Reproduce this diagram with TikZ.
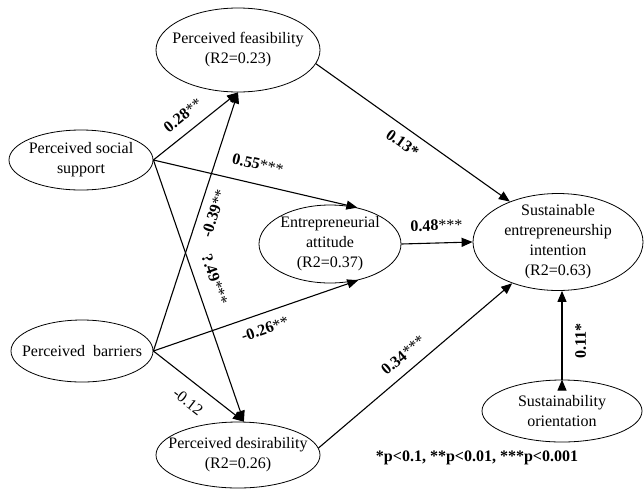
\documentclass[tikz,border=0pt]{standalone}
\usepackage{fontspec}
\setmainfont{Liberation Serif}
\usetikzlibrary{shapes.geometric, arrows.meta}
\tikzset{
construct/.style={ellipse, draw, line width=0.8pt, inner xsep=-12pt, inner ysep=-4pt, align=center}, % latent constructs
link/.style={-{Triangle[length=11pt,width=9pt]}, line width=1.1pt}, % structural paths
coef/.style={inner sep=0pt, sloped}, % path coefficients written along the paths
}

\begin{document}
\begin{tikzpicture}[x=1pt, y=-1pt, font=\fontsize{16}{20}\selectfont]
\useasboundingbox (0,0) rectangle (644,488);
% constructs
\node[construct, minimum width=164pt, minimum height=84pt] (pf) at (238,50) {Perceived feasibility\\(R2=0.23)};
\node[construct, minimum width=144pt, minimum height=60pt] (pss) at (81,160) {Perceived social\\support};
\node[construct, minimum width=142pt, minimum height=62pt] (pb) at (82,351) {Perceived\ \ barriers};
\node[construct, minimum width=142pt, minimum height=78pt] (pa) at (330,244) {Entrepreneurial\\attitude\\(R2=0.37)};
\node[construct, minimum width=164pt, minimum height=66pt] (pd) at (238,455) {Perceived desirability\\(R2=0.26)};
\node[construct, minimum width=170pt, minimum height=97pt] (psi) at (558,242) {Sustainable\\entrepreneurship\\intention\\(R2=0.63)};
\node[construct, minimum width=160pt, minimum height=62pt] (pso) at (562,411) {Sustainability\\orientation};
\node[font=\bfseries\fontsize{16}{20}\selectfont] (legend) at (477,458) {*p<0.1, **p<0.01, ***p<0.001};
% paths
\draw[link]
(pss.east) edge node[coef, above=10.6pt, pos=0.47] {\textbf{0.28}**} (pf.south)
(pss.east) edge node[coef, above=13.6pt, pos=0.49] {\textbf{0.55}***} (pa.53)
(pss.east) edge node[coef, above=13pt, pos=0.48] {\textbf{?.49}***} (pd.80)
(pb.east) edge node[coef, below=8.6pt, pos=0.55] {\textbf{-0.39}**} (pf.south)
(pb.east) edge node[coef, below=9.6pt, pos=0.52] {\textbf{-0.26}**} (pa.-52)
(pb.east) edge node[coef, below=12.6pt, pos=0.51] {-0.12} (pd.80)
(pf.-10) edge node[coef, below=8.6pt, pos=0.49] {\textbf{0.13*}} (psi.140)
(pa.east) edge node[coef, above=11.6pt, pos=0.5] {\textbf{0.48}***} (psi.west)
(pd.5) edge node[coef, above=9.9pt, pos=0.49] {\textbf{0.34}***} (psi.222)
(pso.north) edge node[coef, below=12.6pt, pos=0.44] {\textbf{0.11*}} (pso.north |- psi.south);
\end{tikzpicture}
\end{document}
